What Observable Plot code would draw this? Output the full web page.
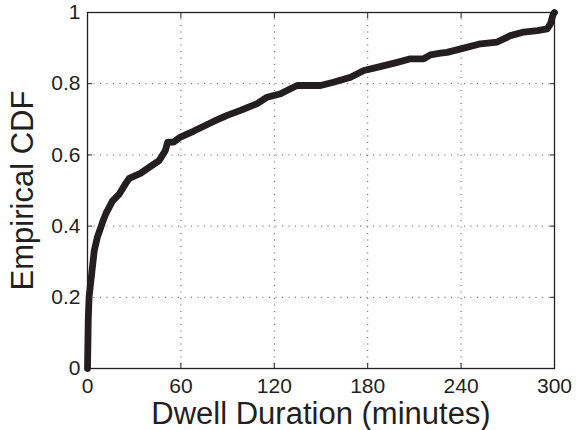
<!DOCTYPE html>
<html>
<head>
<meta charset="utf-8">
<script src="https://cdn.jsdelivr.net/npm/d3@7"></script>
<script src="https://cdn.jsdelivr.net/npm/@observablehq/plot@0.6"></script>
<style>
  html, body { margin: 0; padding: 0; background: #fff; }
  #chart svg { display: block; }
</style>
</head>
<body>
<div id="chart"></div>
<script>
// Dwell duration (minutes) and empirical CDF values
const durations = [0, 0.5, 1, 4.3, 6.4, 9.6, 11.8, 16, 20.4, 24.6, 26.8, 34, 39.6, 46, 50, 51.5, 55.4, 59.7, 68.3, 81, 89.7, 98.3, 109, 115.4, 124, 130.4, 134.7, 141, 149.7, 158, 169, 177.5, 186, 199, 207.5, 216, 220.3, 226.8, 231, 241.7, 252.5, 263.2, 271.7, 280.3, 289, 295.3, 297.4, 299.2, 300];
const cdf = [0, 0.14, 0.2, 0.33, 0.37, 0.41, 0.435, 0.47, 0.49, 0.52, 0.534, 0.548, 0.565, 0.584, 0.612, 0.636, 0.636, 0.65, 0.667, 0.694, 0.711, 0.725, 0.744, 0.762, 0.772, 0.786, 0.795, 0.795, 0.795, 0.804, 0.818, 0.837, 0.846, 0.86, 0.87, 0.87, 0.881, 0.886, 0.888, 0.9, 0.912, 0.917, 0.935, 0.945, 0.949, 0.954, 0.968, 0.996, 1];
const xTicks = [0, 60, 120, 180, 240, 300];
const yTicks = [0, 0.2, 0.4, 0.6, 0.8, 1];
const yTickLabels = ["0", "0.2", "0.4", "0.6", "0.8", "1"];
const xTitle = "Dwell Duration (minutes)";
const yTitle = "Empirical CDF";

const data = durations.map((d, i) => ({duration: d, p: cdf[i]}));
const ink = "#231f20";
const gridStyle = {stroke: "#555", strokeOpacity: 1, strokeWidth: 1, strokeDasharray: "1,5.5"};

const chart = Plot.plot({
  width: 576,
  height: 430,
  marginLeft: 87,
  marginRight: 22,
  marginTop: 12,
  marginBottom: 62,
  style: {fontFamily: "'Liberation Sans', Helvetica, Arial, sans-serif", background: "#fff", color: ink},
  x: {domain: [0, 300]},
  y: {domain: [0, 1]},
  marks: [
    Plot.gridX(xTicks, gridStyle),
    Plot.gridY(yTicks, gridStyle),
    Plot.axisX(xTicks, {anchor: "bottom", tickSize: 0, tickPadding: 10, fontSize: 21, label: null, tickFormat: d => String(d)}),
    Plot.axisX(xTicks, {anchor: "bottom", tickSize: -5, tickFormat: () => "", label: null, stroke: ink}),
    Plot.axisX(xTicks, {anchor: "top", tickSize: -5, tickFormat: () => "", label: null, stroke: ink}),
    Plot.axisY(yTicks, {anchor: "left", tickSize: 0, tickPadding: 7, fontSize: 21, label: null, tickFormat: (d, i) => yTickLabels[i]}),
    Plot.axisY(yTicks, {anchor: "left", tickSize: -5, tickFormat: () => "", label: null, stroke: ink}),
    Plot.axisY(yTicks, {anchor: "right", tickSize: -5, tickFormat: () => "", label: null, stroke: ink}),
    Plot.line(data, {x: "duration", y: "p", stroke: ink, strokeWidth: 6.8, strokeLinejoin: "round", strokeLinecap: "round"}),
    Plot.frame({stroke: ink, strokeWidth: 1.3}),
    Plot.text([xTitle], {frameAnchor: "bottom", textAnchor: "middle", lineAnchor: "middle", dy: 46, fontSize: 31, fill: ink}),
    Plot.text([yTitle], {frameAnchor: "left", textAnchor: "middle", lineAnchor: "middle", dx: -64, rotate: -90, fontSize: 31, fill: ink})
  ]
});
document.getElementById("chart").appendChild(chart);
</script>
</body>
</html>
